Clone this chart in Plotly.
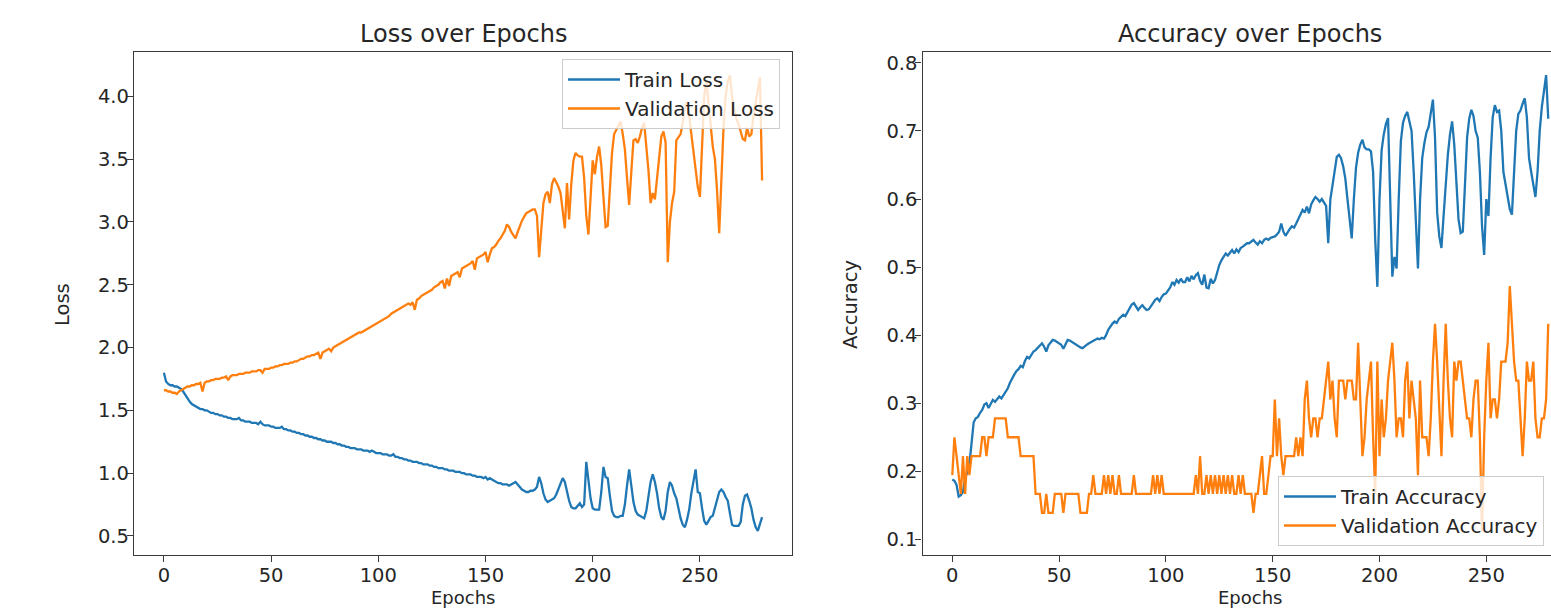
import plotly.graph_objects as go

# ---------------- data ----------------
EPOCHS = list(range(280))

TRAIN_LOSS = [
    1.80, 1.73, 1.71, 1.70, 1.70, 1.69, 1.69, 1.68, 1.67, 1.65,
    1.62, 1.59, 1.57, 1.55, 1.54, 1.53, 1.52, 1.51, 1.51, 1.50,
    1.50, 1.49, 1.48, 1.48, 1.47, 1.47, 1.46, 1.46, 1.45, 1.45,
    1.44, 1.44, 1.43, 1.43, 1.43, 1.44, 1.42, 1.42, 1.41, 1.41,
    1.41, 1.40, 1.40, 1.40, 1.39, 1.41, 1.39, 1.38, 1.38, 1.38,
    1.37, 1.37, 1.36, 1.36, 1.36, 1.37, 1.35, 1.35, 1.34, 1.34,
    1.33, 1.33, 1.32, 1.32, 1.31, 1.31, 1.30, 1.30, 1.29, 1.29,
    1.28, 1.28, 1.27, 1.27, 1.26, 1.26, 1.25, 1.25, 1.25, 1.24,
    1.24, 1.23, 1.23, 1.22, 1.22, 1.21, 1.21, 1.20, 1.20, 1.20,
    1.19, 1.19, 1.19, 1.18, 1.18, 1.18, 1.17, 1.18, 1.17, 1.16,
    1.16, 1.16, 1.15, 1.15, 1.15, 1.14, 1.14, 1.15, 1.13, 1.13,
    1.12, 1.12, 1.11, 1.11, 1.10, 1.10, 1.09, 1.09, 1.09, 1.08,
    1.08, 1.07, 1.07, 1.07, 1.06, 1.06, 1.05, 1.05, 1.04, 1.04,
    1.04, 1.03, 1.03, 1.02, 1.02, 1.02, 1.01, 1.01, 1.01, 1.00,
    1.00, 0.99, 0.99, 0.99, 0.98, 0.98, 0.97, 0.97, 0.97, 0.96,
    0.97, 0.95, 0.96, 0.95, 0.94, 0.93, 0.92, 0.92, 0.91, 0.91,
    0.91, 0.90, 0.91, 0.92, 0.93, 0.91, 0.89, 0.87, 0.86, 0.85,
    0.85, 0.86, 0.86, 0.87, 0.89, 0.97, 0.92, 0.84, 0.79, 0.77,
    0.78, 0.79, 0.80, 0.83, 0.87, 0.92, 0.96, 0.93, 0.85, 0.78,
    0.73, 0.72, 0.72, 0.74, 0.76, 0.73, 0.75, 1.09, 0.93, 0.80,
    0.72, 0.71, 0.71, 0.71, 0.85, 1.05, 0.97, 0.96, 0.82, 0.70,
    0.66, 0.65, 0.65, 0.66, 0.66, 0.75, 0.90, 1.03, 0.90, 0.77,
    0.70, 0.67, 0.66, 0.65, 0.64, 0.70, 0.82, 0.93, 0.99, 0.93,
    0.84, 0.72, 0.65, 0.63, 0.70, 0.85, 0.93, 0.90, 0.84, 0.80,
    0.72, 0.64, 0.59, 0.57, 0.63, 0.71, 0.84, 0.95, 1.03, 0.85,
    0.84, 0.72, 0.62, 0.59, 0.62, 0.65, 0.66, 0.72, 0.80, 0.85,
    0.87, 0.85, 0.81, 0.78, 0.68, 0.59, 0.58, 0.58, 0.58, 0.61,
    0.75, 0.82, 0.83, 0.78, 0.72, 0.63, 0.57, 0.54, 0.60, 0.65,
]

VAL_LOSS = [
    1.66, 1.66, 1.65, 1.65, 1.64, 1.64, 1.63, 1.65, 1.66, 1.67,
    1.68, 1.69, 1.69, 1.70, 1.70, 1.71, 1.71, 1.72, 1.65, 1.72,
    1.73, 1.73, 1.74, 1.74, 1.75, 1.75, 1.75, 1.76, 1.76, 1.77,
    1.74, 1.77, 1.78, 1.78, 1.78, 1.79, 1.79, 1.79, 1.80, 1.80,
    1.80, 1.81, 1.81, 1.81, 1.82, 1.82, 1.80, 1.83, 1.83, 1.83,
    1.84, 1.84, 1.85, 1.85, 1.86, 1.86, 1.87, 1.87, 1.87, 1.88,
    1.88, 1.89, 1.89, 1.90, 1.91, 1.91, 1.92, 1.93, 1.93, 1.94,
    1.94, 1.95, 1.96, 1.91, 1.96, 1.97, 1.98, 1.99, 1.97, 2.00,
    2.01, 2.02, 2.03, 2.04, 2.05, 2.06, 2.07, 2.08, 2.09, 2.10,
    2.11, 2.12, 2.12, 2.13, 2.14, 2.15, 2.16, 2.17, 2.18, 2.19,
    2.20, 2.21, 2.22, 2.23, 2.24, 2.25, 2.27, 2.28, 2.29, 2.30,
    2.31, 2.32, 2.33, 2.34, 2.35, 2.34, 2.36, 2.30, 2.38, 2.39,
    2.41, 2.42, 2.43, 2.44, 2.45, 2.46, 2.48, 2.49, 2.50, 2.52,
    2.53, 2.47, 2.55, 2.49, 2.57, 2.58, 2.59, 2.60, 2.56, 2.63,
    2.64, 2.65, 2.66, 2.67, 2.69, 2.62, 2.71, 2.72, 2.73, 2.74,
    2.76, 2.68, 2.74, 2.79, 2.80, 2.82, 2.85, 2.87, 2.90, 2.93,
    2.98, 2.96, 2.92, 2.89, 2.87, 2.92, 2.97, 3.01, 3.04, 3.07,
    3.08, 3.09, 3.10, 3.10, 3.05, 2.72, 2.95, 3.15, 3.22, 3.24,
    3.15, 3.30, 3.35, 3.32, 3.28, 3.23, 3.10, 2.95, 3.31, 3.02,
    3.30, 3.49, 3.55, 3.53, 3.52, 3.52, 3.35, 3.05, 2.90, 3.25,
    3.49, 3.38, 3.52, 3.60, 3.45, 3.20, 2.96, 2.97, 3.30, 3.55,
    3.70, 3.73, 3.77, 3.80, 3.70, 3.58, 3.35, 3.135, 3.40, 3.65,
    3.66, 3.63, 3.68, 3.75, 3.79, 3.60, 3.41, 3.15, 3.23, 3.18,
    3.35, 3.55, 3.68, 3.72, 3.63, 2.68, 3.00, 3.15, 3.24, 3.65,
    3.68, 3.70, 3.79, 3.92, 3.95, 3.85, 3.70, 3.55, 3.40, 3.28,
    3.20, 3.60, 4.00, 4.12, 3.95, 3.75, 3.60, 3.50, 3.25, 2.91,
    3.30, 3.75, 4.00, 4.12, 4.17, 4.00, 3.90, 3.82, 3.78, 3.72,
    3.66, 3.65, 3.75, 3.68, 3.70, 3.85, 3.95, 4.05, 4.15, 3.33,
]

TRAIN_ACC = [
    0.188, 0.186, 0.180, 0.163, 0.165, 0.170, 0.190, 0.198, 0.210, 0.240,
    0.272, 0.278, 0.280, 0.286, 0.290, 0.298, 0.300, 0.293, 0.298, 0.305,
    0.302, 0.306, 0.310, 0.307, 0.312, 0.315, 0.322, 0.330, 0.337, 0.342,
    0.347, 0.350, 0.355, 0.353, 0.362, 0.368, 0.366, 0.372, 0.376, 0.378,
    0.381, 0.384, 0.388, 0.383, 0.376, 0.385, 0.390, 0.393, 0.392, 0.390,
    0.389, 0.386, 0.380, 0.387, 0.393, 0.392, 0.390, 0.388, 0.385, 0.383,
    0.382, 0.381, 0.384, 0.386, 0.388, 0.390, 0.392, 0.394, 0.395, 0.394,
    0.396, 0.395, 0.400, 0.408, 0.413, 0.417, 0.420, 0.418, 0.424, 0.427,
    0.430, 0.428, 0.434, 0.440, 0.445, 0.447, 0.442, 0.437, 0.441, 0.444,
    0.440, 0.437, 0.438, 0.443, 0.449, 0.452, 0.454, 0.450, 0.456, 0.460,
    0.461, 0.465, 0.470, 0.478, 0.474, 0.481, 0.477, 0.483, 0.478, 0.478,
    0.485, 0.479, 0.487, 0.482, 0.488, 0.491, 0.480, 0.474, 0.489, 0.470,
    0.469, 0.483, 0.476, 0.481, 0.492, 0.503, 0.510, 0.515, 0.520, 0.517,
    0.522, 0.525, 0.520, 0.526, 0.522, 0.528, 0.530, 0.532, 0.535, 0.535,
    0.538, 0.540, 0.536, 0.533, 0.538, 0.535, 0.540, 0.542, 0.540, 0.543,
    0.544, 0.545, 0.548, 0.552, 0.564, 0.552, 0.546, 0.552, 0.556, 0.560,
    0.558, 0.564, 0.570, 0.578, 0.584, 0.580, 0.589, 0.579, 0.592, 0.598,
    0.603, 0.600, 0.596, 0.600, 0.595, 0.590, 0.535, 0.600, 0.620, 0.645,
    0.662, 0.665, 0.660, 0.648, 0.630, 0.600, 0.565, 0.542, 0.600, 0.646,
    0.668, 0.680, 0.687, 0.676, 0.673, 0.673, 0.670, 0.640, 0.540, 0.471,
    0.600, 0.672, 0.695, 0.710, 0.719, 0.610, 0.486, 0.515, 0.498, 0.600,
    0.685, 0.712, 0.722, 0.728, 0.715, 0.700, 0.640, 0.560, 0.498, 0.600,
    0.660, 0.682, 0.698, 0.706, 0.728, 0.746, 0.690, 0.580, 0.545, 0.528,
    0.575, 0.625, 0.665, 0.695, 0.714, 0.680, 0.620, 0.570, 0.550, 0.552,
    0.620, 0.690, 0.718, 0.731, 0.722, 0.700, 0.690, 0.640, 0.560, 0.518,
    0.600, 0.575, 0.660, 0.720, 0.738, 0.728, 0.730, 0.700, 0.640, 0.620,
    0.600, 0.585, 0.577, 0.640, 0.700, 0.725, 0.730, 0.740, 0.748, 0.720,
    0.660, 0.640, 0.620, 0.603, 0.640, 0.700, 0.735, 0.760, 0.782, 0.718,
]

VAL_ACC = [
    0.1944, 0.2500, 0.2222, 0.1944, 0.1667, 0.2222, 0.1667, 0.2222, 0.1944, 0.2222,
    0.2222, 0.2222, 0.2222, 0.2222, 0.2500, 0.2500, 0.2222, 0.2500, 0.2500, 0.2500,
    0.2778, 0.2778, 0.2778, 0.2778, 0.2778, 0.2778, 0.2500, 0.2500, 0.2500, 0.2500,
    0.2500, 0.2500, 0.2222, 0.2222, 0.2222, 0.2222, 0.2222, 0.2222, 0.2222, 0.1667,
    0.1667, 0.1667, 0.1389, 0.1389, 0.1667, 0.1389, 0.1389, 0.1389, 0.1667, 0.1667,
    0.1667, 0.1667, 0.1389, 0.1667, 0.1667, 0.1667, 0.1667, 0.1667, 0.1667, 0.1667,
    0.1389, 0.1389, 0.1389, 0.1389, 0.1667, 0.1667, 0.1944, 0.1667, 0.1667, 0.1667,
    0.1667, 0.1944, 0.1667, 0.1944, 0.1667, 0.1944, 0.1667, 0.1667, 0.1944, 0.1667,
    0.1667, 0.1667, 0.1667, 0.1667, 0.1667, 0.1944, 0.1667, 0.1667, 0.1667, 0.1667,
    0.1667, 0.1667, 0.1667, 0.1667, 0.1944, 0.1667, 0.1944, 0.1667, 0.1944, 0.1667,
    0.1667, 0.1667, 0.1667, 0.1667, 0.1667, 0.1667, 0.1667, 0.1667, 0.1667, 0.1667,
    0.1667, 0.1667, 0.1667, 0.1667, 0.1944, 0.1667, 0.2222, 0.1667, 0.1667, 0.1944,
    0.1667, 0.1944, 0.1667, 0.1944, 0.1667, 0.1944, 0.1667, 0.1944, 0.1667, 0.1944,
    0.1667, 0.1944, 0.1667, 0.1667, 0.1944, 0.1667, 0.1944, 0.1667, 0.1667, 0.1667,
    0.1667, 0.1389, 0.1667, 0.1667, 0.1944, 0.2222, 0.1667, 0.1667, 0.1944, 0.2222,
    0.2222, 0.3056, 0.2222, 0.2778, 0.2222, 0.1944, 0.2222, 0.2222, 0.2222, 0.2222,
    0.2222, 0.2500, 0.2222, 0.2500, 0.2222, 0.3056, 0.3333, 0.2778, 0.2500, 0.2778,
    0.2778, 0.2500, 0.2778, 0.2778, 0.3056, 0.3333, 0.3611, 0.3056, 0.3333, 0.2778,
    0.2500, 0.3333, 0.3333, 0.3333, 0.3056, 0.3333, 0.3333, 0.3333, 0.3056, 0.3056,
    0.3889, 0.3056, 0.2222, 0.2500, 0.3056, 0.3333, 0.3611, 0.2500, 0.1667, 0.3611,
    0.2222, 0.3056, 0.2500, 0.2778, 0.3333, 0.3611, 0.3889, 0.3333, 0.2500, 0.2778,
    0.2778, 0.2500, 0.3333, 0.3611, 0.2778, 0.3333, 0.3056, 0.2778, 0.1944, 0.3333,
    0.2500, 0.2500, 0.2500, 0.2222, 0.2778, 0.3611, 0.4167, 0.3611, 0.2778, 0.2222,
    0.3333, 0.4167, 0.3333, 0.2778, 0.2500, 0.3611, 0.3333, 0.3611, 0.3611, 0.3333,
    0.3056, 0.2778, 0.2778, 0.2500, 0.3056, 0.3333, 0.3333, 0.2500, 0.1111, 0.2500,
    0.3333, 0.3889, 0.2778, 0.3056, 0.3056, 0.2778, 0.3056, 0.3611, 0.3611, 0.3611,
    0.3889, 0.4722, 0.4167, 0.3611, 0.3333, 0.3333, 0.2778, 0.2222, 0.2778, 0.3611,
    0.3333, 0.3333, 0.3611, 0.2778, 0.2500, 0.2500, 0.2778, 0.2778, 0.3056, 0.4167,
]

LOSS_TICKS = [0.5, 1.0, 1.5, 2.0, 2.5, 3.0, 3.5, 4.0]
LOSS_TICK_TEXT = ["0.5", "1.0", "1.5", "2.0", "2.5", "3.0", "3.5", "4.0"]
ACC_TICKS = [0.1, 0.2, 0.3, 0.4, 0.5, 0.6, 0.7, 0.8]
ACC_TICK_TEXT = ["0.1", "0.2", "0.3", "0.4", "0.5", "0.6", "0.7", "0.8"]
EPOCH_TICKS = [0, 50, 100, 150, 200, 250]
EPOCH_TICK_TEXT = ["0", "50", "100", "150", "200", "250"]

# ---------------- style ----------------
W, H = 1551, 609
BLUE = "#1f77b4"
ORANGE = "#ff7f0e"
FONT = "DejaVu Sans"
TXT = "#262626"
AX = "#3a3a3a"
TICK_SIZE = 19.5
LEGEND_SIZE = 20
TITLE_SIZE = 24
XLABEL_SIZE = 18
LINE_W = 2.3


def fx(p):
    return p / W


def fy(p):
    return 1 - p / H


fig = go.Figure()
fig.add_trace(go.Scatter(x=EPOCHS, y=TRAIN_LOSS, mode="lines", name="Train Loss",
                         line=dict(color=BLUE, width=LINE_W), xaxis="x", yaxis="y",
                         legend="legend"))
fig.add_trace(go.Scatter(x=EPOCHS, y=VAL_LOSS, mode="lines", name="Validation Loss",
                         line=dict(color=ORANGE, width=LINE_W), xaxis="x", yaxis="y",
                         legend="legend"))
fig.add_trace(go.Scatter(x=EPOCHS, y=TRAIN_ACC, mode="lines", name="Train Accuracy",
                         line=dict(color=BLUE, width=LINE_W), xaxis="x2", yaxis="y2",
                         legend="legend2"))
fig.add_trace(go.Scatter(x=EPOCHS, y=VAL_ACC, mode="lines", name="Validation Accuracy",
                         line=dict(color=ORANGE, width=LINE_W), xaxis="x2", yaxis="y2",
                         legend="legend2"))

axis_common = dict(
    showline=True, linecolor=AX, linewidth=1.3,
    ticks="outside", ticklen=6, tickwidth=1.3, tickcolor=AX,
    showgrid=False, zeroline=False,
    tickfont=dict(family=FONT, size=TICK_SIZE, color=TXT),
)

y_dom = [fy(555.3), fy(52.4)]

fig.update_layout(
    width=W, height=H,
    margin=dict(l=0, r=0, t=0, b=0, autoexpand=False),
    paper_bgcolor="white", plot_bgcolor="white",
    font=dict(family=FONT, color=TXT),
    xaxis=dict(domain=[fx(134), fx(792)], range=[-13.95, 292.95], anchor="y",
               ticklabelstandoff=-4,
               mirror=True, tickvals=EPOCH_TICKS, ticktext=EPOCH_TICK_TEXT, **axis_common),
    yaxis=dict(domain=y_dom, range=[0.346, 4.35], anchor="x", ticklabelstandoff=-6,
               mirror=True, tickvals=LOSS_TICKS, ticktext=LOSS_TICK_TEXT, **axis_common),
    xaxis2=dict(domain=[fx(922.5), 1.0], range=[-13.95, 280.29], anchor="y2",
                ticklabelstandoff=-4,
                mirror=True, tickvals=EPOCH_TICKS, ticktext=EPOCH_TICK_TEXT, **axis_common),
    yaxis2=dict(domain=y_dom, range=[0.0766, 0.8154], anchor="x2", ticklabelstandoff=-6,
                mirror=False, tickvals=ACC_TICKS, ticktext=ACC_TICK_TEXT, **axis_common),
    legend=dict(x=fx(780), xanchor="right", y=fy(59), yanchor="top",
                bgcolor="rgba(255,255,255,0.8)", bordercolor="#cccccc", borderwidth=1,
                font=dict(family=FONT, size=LEGEND_SIZE, color=TXT), itemwidth=52,
                tracegroupgap=0),
    legend2=dict(x=fx(1278), xanchor="left", y=fy(546), yanchor="bottom",
                 bgcolor="rgba(255,255,255,0.8)", bordercolor="#cccccc", borderwidth=1,
                 font=dict(family=FONT, size=LEGEND_SIZE, color=TXT), itemwidth=52,
                 tracegroupgap=0),
    showlegend=True,
)

annotations = [
    dict(text="Loss over Epochs", x=fx(463), y=fy(34), xref="paper", yref="paper",
         xanchor="center", yanchor="middle", showarrow=False,
         font=dict(family=FONT, size=TITLE_SIZE, color=TXT)),
    dict(text="Accuracy over Epochs", x=fx(1250), y=fy(34), xref="paper", yref="paper",
         xanchor="center", yanchor="middle", showarrow=False,
         font=dict(family=FONT, size=TITLE_SIZE, color=TXT)),
    dict(text="Epochs", x=fx(463), y=0, xref="paper", yref="paper",
         xanchor="center", yanchor="bottom", showarrow=False, borderpad=0,
         font=dict(family=FONT, size=XLABEL_SIZE, color=TXT)),
    dict(text="Epochs", x=fx(1250), y=0, xref="paper", yref="paper",
         xanchor="center", yanchor="bottom", showarrow=False, borderpad=0,
         font=dict(family=FONT, size=XLABEL_SIZE, color=TXT)),
    dict(text="Loss", x=fx(62), y=fy(305), xref="paper", yref="paper",
         xanchor="center", yanchor="middle", showarrow=False, textangle=-90,
         font=dict(family=FONT, size=TICK_SIZE, color=TXT)),
    dict(text="Accuracy", x=fx(850), y=fy(305), xref="paper", yref="paper",
         xanchor="center", yanchor="middle", showarrow=False, textangle=-90,
         font=dict(family=FONT, size=TICK_SIZE, color=TXT)),
]
fig.update_layout(annotations=annotations)

fig.write_html("out.html")
